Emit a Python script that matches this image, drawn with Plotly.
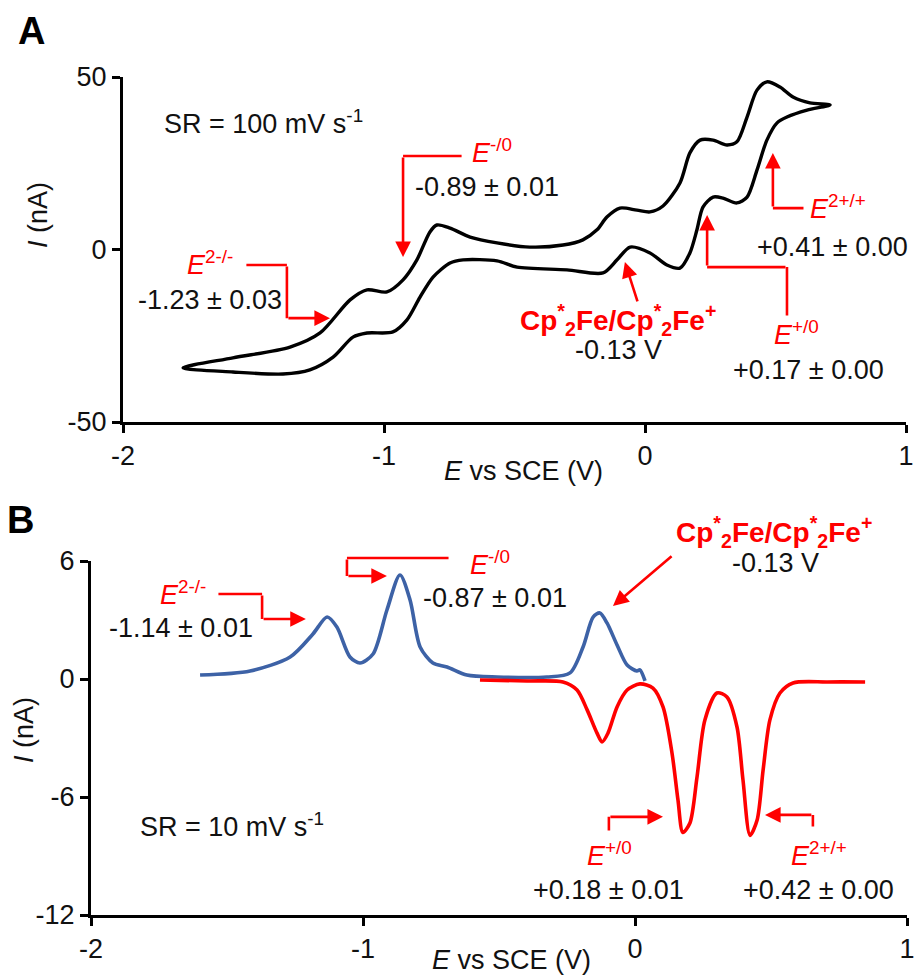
import plotly.graph_objects as go

# ---------------- data ----------------
# Panel A: cyclic voltammogram (E in V vs SCE, I in nA)
cv_fwd_e = [-1.770, -1.579, -1.360, -1.245, -1.130, -1.065, -0.989, -0.927, -0.874, -0.824,
            -0.797, -0.747, -0.670, -0.567, -0.441, -0.314, -0.238, -0.184, -0.146, -0.096,
            -0.031, 0.019, 0.069, 0.134, 0.172, 0.211, 0.261, 0.314, 0.352, 0.391,
            0.429, 0.467, 0.517, 0.567, 0.632, 0.709]
cv_fwd_i = [-34.3, -31.4, -28.3, -24.2, -14.6, -11.7, -12.3, -8.8, -3.0, 5.1,
            7.1, 6.2, 3.6, 1.9, 0.7, 1.3, 2.8, 5.7, 9.4, 12.0,
            11.4, 10.9, 12.6, 19.3, 28.0, 31.7, 31.7, 30.3, 31.2, 38.4,
            46.2, 48.6, 47.1, 44.2, 42.5, 41.9]
cv_rev_e = [0.709, 0.621, 0.544, 0.506, 0.467, 0.429, 0.391, 0.352, 0.299, 0.261,
            0.222, 0.199, 0.172, 0.134, 0.084, 0.019, -0.057, -0.107, -0.161, -0.299,
            -0.490, -0.567, -0.697, -0.747, -0.812, -0.862, -0.912, -0.966, -1.065, -1.119,
            -1.195, -1.284, -1.387, -1.579, -1.770]
cv_rev_i = [41.9, 40.4, 38.4, 36.7, 31.7, 23.0, 15.2, 13.5, 14.9, 15.2,
            12.3, 5.7, -1.0, -5.4, -4.5, -1.0, 0.7, -3.0, -6.8, -5.9,
            -5.1, -3.3, -3.0, -3.9, -8.0, -13.8, -20.4, -23.9, -24.2, -25.4,
            -31.2, -34.9, -36.1, -35.5, -34.3]

# Panel B: differential pulse voltammograms
dpv_ox_e = [-1.599, -1.415, -1.268, -1.184, -1.132, -1.096, -1.048, -1.011, -0.963, -0.912,
            -0.864, -0.827, -0.790, -0.743, -0.691, -0.618, -0.507, -0.324, -0.239, -0.191,
            -0.154, -0.129, -0.103, -0.066, -0.029, 0.007, 0.018, 0.037]
dpv_ox_i = [0.20, 0.41, 1.12, 2.29, 3.15, 2.64, 1.12, 0.81, 1.27, 3.51,
            5.29, 4.02, 1.63, 0.81, 0.61, 0.20, 0.10, 0.10, 0.31, 1.63,
            3.15, 3.36, 2.85, 1.73, 0.71, 0.41, 0.46, -0.10]
dpv_red_e = [-0.570, -0.397, -0.265, -0.213, -0.176, -0.140, -0.121, -0.099, -0.066, -0.029,
             0.018, 0.066, 0.103, 0.136, 0.158, 0.176, 0.202, 0.228, 0.257, 0.301,
             0.338, 0.375, 0.397, 0.423, 0.449, 0.471, 0.496, 0.533, 0.581, 0.706, 0.846]
dpv_red_i = [-0.05, -0.10, -0.15, -0.56, -1.57, -2.74, -3.20, -2.74, -1.42, -0.56,
             -0.25, -0.46, -1.42, -3.76, -6.15, -7.80, -7.32, -4.98, -2.08, -0.71,
             -0.91, -2.44, -5.13, -7.95, -7.17, -4.63, -2.08, -0.71, -0.20, -0.15, -0.15]

x_ticks = [-2, -1, 0, 1]
x_ticktext = ["-2", "-1", "0", "1"]
yA_ticks = [-50, 0, 50]
yA_ticktext = ["-50", "0", "50"]
yB_ticks = [-12, -6, 0, 6]
yB_ticktext = ["-12", "-6", "0", "6"]

# ---------------- layout geometry ----------------
W, H = 916, 975
FONT = "Liberation Sans, Arial, sans-serif"
FS = 27
RED = "#ff0000"
BLUE = "#3d62a6"
TXT = "#111111"

# plot-area boxes in page pixels: (left, right, top, bottom), with axis ranges
GEO = {
    "A": dict(l=123, r=906, t=77, b=422, xr=(-2, 1), yr=(-50, 50)),
    "B": dict(l=91, r=907, t=561, b=915, xr=(-2, 1), yr=(-12, 6)),
}


def to_pix(x, y, p):
    g = GEO[p]
    px = g["l"] + (x - g["xr"][0]) / (g["xr"][1] - g["xr"][0]) * (g["r"] - g["l"])
    py = g["b"] - (y - g["yr"][0]) / (g["yr"][1] - g["yr"][0]) * (g["b"] - g["t"])
    return px, py


fig = go.Figure()
fig.add_trace(go.Scatter(x=cv_fwd_e + cv_rev_e[1:], y=cv_fwd_i + cv_rev_i[1:],
                         mode="lines", line=dict(color="black", width=3.4, shape="spline", smoothing=0.8),
                         xaxis="x", yaxis="y", showlegend=False, hoverinfo="skip"))
fig.add_trace(go.Scatter(x=dpv_ox_e, y=dpv_ox_i, mode="lines",
                         line=dict(color=BLUE, width=3.6, shape="spline", smoothing=0.8),
                         xaxis="x2", yaxis="y2", showlegend=False, hoverinfo="skip"))
fig.add_trace(go.Scatter(x=dpv_red_e, y=dpv_red_i, mode="lines",
                         line=dict(color=RED, width=3.6, shape="spline", smoothing=0.8),
                         xaxis="x2", yaxis="y2", showlegend=False, hoverinfo="skip"))

axis_common = dict(showline=True, linecolor="black", linewidth=3, ticks="outside", ticklen=8,
                   tickwidth=3, tickcolor="black", showgrid=False, zeroline=False,
                   automargin=False, mirror=False,
                   tickfont=dict(family=FONT, size=FS, color=TXT), fixedrange=True)


def dom_x(p):
    return [GEO[p]["l"] / W, GEO[p]["r"] / W]


def dom_y(p):
    return [1 - GEO[p]["b"] / H, 1 - GEO[p]["t"] / H]


fig.update_layout(
    template="none",
    width=W, height=H, autosize=False,
    margin=dict(l=0, r=0, t=0, b=0, pad=0),
    paper_bgcolor="white", plot_bgcolor="white",
    font=dict(family=FONT, size=FS, color=TXT),
    xaxis=dict(domain=dom_x("A"), range=list(GEO["A"]["xr"]), tickvals=x_ticks, ticktext=x_ticktext,
               anchor="y", **axis_common),
    yaxis=dict(domain=dom_y("A"), range=list(GEO["A"]["yr"]), tickvals=yA_ticks,
               ticktext=yA_ticktext, anchor="x", **axis_common),
    xaxis2=dict(domain=dom_x("B"), range=list(GEO["B"]["xr"]), tickvals=x_ticks, ticktext=x_ticktext,
                anchor="y2", **axis_common),
    yaxis2=dict(domain=dom_y("B"), range=list(GEO["B"]["yr"]), tickvals=yB_ticks,
                ticktext=yB_ticktext, anchor="x2", **axis_common),
)

ann = []


def path(points, p):
    """red bracket / arrow drawn as consecutive segments, arrowhead on the last one"""
    n = len(points)
    for k in range(n - 1):
        x0, y0 = to_pix(*points[k], p)
        x1, y1 = to_pix(*points[k + 1], p)
        last = (k == n - 2)
        ann.append(dict(x=x1 / W, y=1 - y1 / H, xref="paper", yref="paper",
                        ax=x0 - x1, ay=y0 - y1, axref="pixel", ayref="pixel",
                        text="", showarrow=True, arrowhead=2 if last else 0,
                        arrowsize=1.2, arrowwidth=2.6, arrowcolor=RED,
                        standoff=0, startstandoff=0))


def label(text, x, y, p, color=TXT, xanchor="center", size=FS):
    px, py = to_pix(x, y, p)
    ann.append(dict(x=px / W, y=1 - py / H, xref="paper", yref="paper", text=text, showarrow=False,
                    xanchor=xanchor, yanchor="middle",
                    font=dict(family=FONT, size=size, color=color)))


def plabel(text, px, py, color=TXT, size=FS, angle=0):
    ann.append(dict(x=px / W, y=1 - py / H, xref="paper", yref="paper", text=text, showarrow=False,
                    xanchor="center", yanchor="middle", textangle=angle,
                    font=dict(family=FONT, size=size, color=color)))


CP = "<b>Cp<sup>*</sup><sub>2</sub>Fe/Cp<sup>*</sup><sub>2</sub>Fe<sup>+</sup></b>"

# ---- panel A ----
path([(-0.697, 27.1), (-0.927, 27.1), (-0.927, -2.2)], "A")
path([(-1.533, -4.5), (-1.372, -4.5), (-1.372, -19.9), (-1.207, -19.9)], "A")
path([(-0.027, -15.5), (-0.077, -3.6)], "A")
path([(0.544, -19.6), (0.544, -5.1), (0.238, -5.1), (0.238, 10.0)], "A")
path([(0.613, 12.0), (0.490, 12.0), (0.490, 28.0)], "A")

label("SR = 100 mV s<sup>-1</sup>", -1.851, 37.0, "A", xanchor="left")
label("<i>E</i><sup>-/0</sup>", -0.670, 28.5, "A", color=RED, xanchor="left")
label("-0.89 ± 0.01", -0.605, 18.1, "A")
label("<i>E</i><sup>2-/-</sup>", -1.571, -4.0, "A", color=RED, xanchor="right")
label("-1.23 ± 0.03", -1.667, -14.6, "A")
label(CP, -0.103, -20.4, "A", color=RED, size=28)
label("-0.13 V", -0.103, -29.1, "A")
label("<i>E</i><sup>+/0</sup>", 0.582, -24.3, "A", color=RED)
label("+0.17 ± 0.00", 0.625, -34.9, "A")
label("<i>E</i><sup>2+/+</sup>", 0.625, 12.2, "A", color=RED, xanchor="left")
label("+0.41 ± 0.00", 0.720, 0.7, "A")

# ---- panel B ----
path([(-1.537, 4.32), (-1.371, 4.32), (-1.371, 3.05), (-1.210, 3.05)], "B")
path([(-0.680, 6.15), (-1.059, 6.15), (-1.059, 5.24), (-0.912, 5.24)], "B")
path([(0.140, 6.31), (-0.081, 3.71)], "B")
path([(-0.096, -7.78), (-0.096, -7.01), (0.103, -7.01)], "B")
path([(0.654, -7.57), (0.654, -6.91), (0.478, -6.91)], "B")

label("SR = 10 mV s<sup>-1</sup>", -1.827, -7.42, "B", xanchor="left")
label("<i>E</i><sup>2-/-</sup>", -1.570, 4.37, "B", color=RED, xanchor="right")
label("-1.14 ± 0.01", -1.669, 2.59, "B")
label("<i>E</i><sup>-/0</sup>", -0.614, 5.90, "B", color=RED, xanchor="left")
label("-0.87 ± 0.01", -0.515, 4.12, "B")
label(CP, 0.511, 7.47, "B", color=RED, size=28)
label("-0.13 V", 0.515, 5.90, "B")
label("<i>E</i><sup>+/0</sup>", -0.092, -8.9, "B", color=RED)
label("+0.18 ± 0.01", -0.096, -10.73, "B")
label("<i>E</i><sup>2+/+</sup>", 0.676, -8.9, "B", color=RED)
label("+0.42 ± 0.00", 0.676, -10.73, "B")

# ---- axis titles and panel letters ----
plabel("<i>E</i> vs SCE (V)", 523, 471)
plabel("<i>E</i> vs SCE (V)", 511, 960)
plabel("<i>I</i> (nA)", 38, 215, angle=-90)
plabel("<i>I</i> (nA)", 24, 730, angle=-90)
plabel("<b>A</b>", 31, 31, color="black", size=38)
plabel("<b>B</b>", 20, 520, color="black", size=38)

fig.update_layout(annotations=ann)
fig.write_html("out.html", config={"displayModeBar": False})
